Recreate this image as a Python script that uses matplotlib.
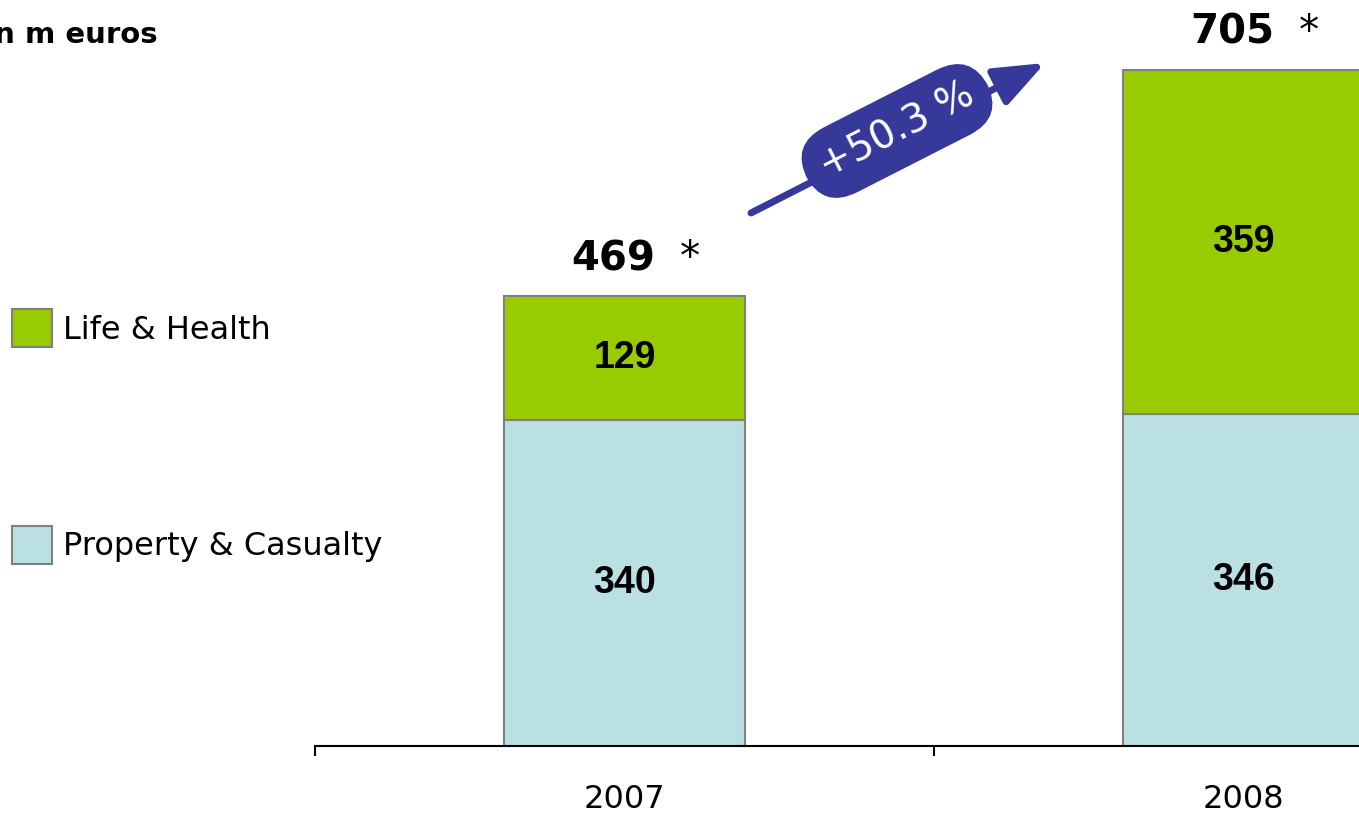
import numpy as np
import matplotlib.pyplot as plt
from matplotlib import font_manager
from matplotlib.patches import FancyArrowPatch

years = ["2007", "2008"]
property_casualty = [340, 346]
life_health = [129, 359]
totals = [469, 705]
growth_label = "+50.3 %"

green = "#99CC00"
light_blue = "#BBE0E3"
edge = "#808080"
navy = "#36399A"

# Arial-like bold for the values inside the bars
arial_bold = None
for f in font_manager.findSystemFonts():
    if f.endswith("LiberationSans-Bold.ttf"):
        arial_bold = font_manager.FontProperties(fname=f, size=27)
        break
if arial_bold is None:
    arial_bold = font_manager.FontProperties(family="DejaVu Sans", weight="bold", size=25)

W, H = 1359, 814
fig = plt.figure(figsize=(W / 100, H / 100), dpi=100)

# axes run past the right edge so the second bar is clipped by the figure
ax = fig.add_axes([315 / W, 68 / H, 1238 / W, 746 / H])
x = np.arange(len(years))
width = 0.39

pc = ax.bar(x, property_casualty, width, color=light_blue, edgecolor=edge, linewidth=1.5,
            label="Property & Casualty")
lh = ax.bar(x, life_health, width, bottom=property_casualty, color=green, edgecolor=edge,
            linewidth=1.5, label="Life & Health")

ax.set_xlim(-0.5, 1.5)
ax.set_ylim(0, 777.5)

for bars, vals, base in [(pc, property_casualty, [0, 0]), (lh, life_health, property_casualty)]:
    for rect, v, b in zip(bars, vals, base):
        ax.text(rect.get_x() + rect.get_width() / 2, b + v / 2, str(v), ha="center", va="center",
                fontproperties=arial_bold)

for xi, t in zip(x, totals):
    ax.annotate(str(t), (xi, t), xytext=(-8, 26.5), textcoords="offset points",
                ha="center", va="center", fontsize=29, fontweight="bold")
    ax.annotate("*", (xi, t), xytext=(47, 26.5), textcoords="offset points",
                ha="center", va="center", fontsize=29)

for s in ["top", "right", "left"]:
    ax.spines[s].set_visible(False)
ax.spines["bottom"].set_linewidth(1.5)
ax.set_yticks([])
ax.set_xticks(x)
ax.set_xticklabels(years, fontsize=23)
ax.tick_params(axis="x", which="major", length=0, pad=27)
ax.set_xticks([-0.5, 0.5, 1.5], minor=True)
ax.tick_params(axis="x", which="minor", length=7, width=1.5, direction="out")

fig.text(158 / W, 1 - 35 / H, "in m euros", ha="right", va="center", fontsize=21, fontweight="bold")

fig.legend(handles=[lh, pc], loc="upper left", bbox_to_anchor=(12 / W, 1 - 309 / H),
           frameon=False, fontsize=23, handlelength=1.25, handleheight=1.45,
           handletextpad=0.35, labelspacing=5.6, borderpad=0, borderaxespad=0)

# growth arrow with the rounded badge on top of it
x0, y0 = 751 / W, 1 - 213 / H
x1, y1 = 1045 / W, 1 - 63 / H
fig.add_artist(FancyArrowPatch(
    (x0, y0), (x1, y1), transform=fig.transFigure, arrowstyle="-|>,head_length=1.4,head_width=0.55",
    mutation_scale=22, color=navy, linewidth=5, shrinkA=0, shrinkB=0))
fig.text(897 / W, 1 - 131 / H, growth_label, ha="center", va="center", rotation=27,
         rotation_mode="anchor", fontsize=28, color="white",
         bbox=dict(boxstyle="round,pad=0.45,rounding_size=1.0", fc=navy, ec="none"))

fig.savefig("out.png", dpi=100)
